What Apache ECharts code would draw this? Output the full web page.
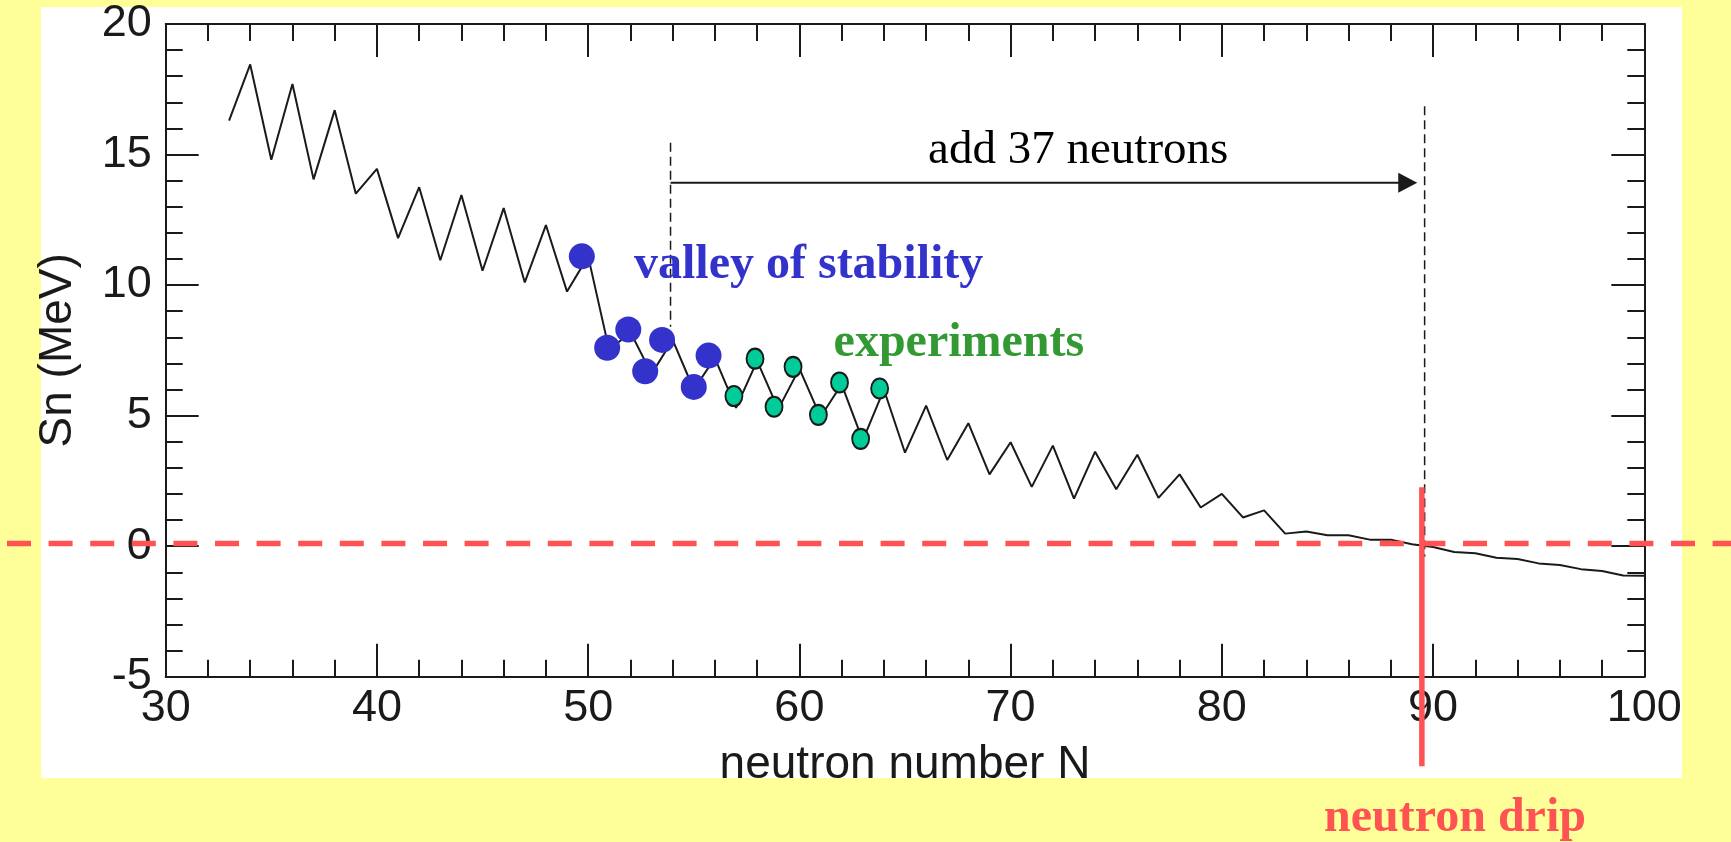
<!DOCTYPE html>
<html>
<head>
<meta charset="utf-8">
<script src="https://cdn.jsdelivr.net/npm/echarts@6/dist/echarts.min.js"></script>
<style>
html,body{margin:0;padding:0;background:#FFFF99;}
#c{width:1731px;height:842px;}
</style>
</head>
<body>
<div id="c"></div>
<script>
// ---- data ----
const neutronN = [33,34,35,36,37,38,39,40,41,42,43,44,45,46,47,48,49,50,51,52,53,54,55,56,57,58,59,60,61,62,63,64,65,66,67,68,69,70,71,72,73,74,75,76,77,78,79,80,81,82,83,84,85,86,87,88,89,90,91,92,93,94,95,96,97,98,99,100];
const snMeV = [16.3,18.45,14.8,17.7,14.05,16.7,13.5,14.45,11.8,13.75,10.95,13.45,10.55,12.95,10.1,12.3,9.75,11.1,7.5,8.2,6.6,7.9,6.0,7.2,5.3,7.1,5.25,6.8,4.95,6.2,4.05,6.0,3.58,5.38,3.3,4.71,2.75,3.98,2.27,3.85,1.82,3.62,2.18,3.5,1.85,2.75,1.48,2.0,1.1,1.37,0.48,0.56,0.42,0.42,0.25,0.25,0.07,-0.03,-0.22,-0.27,-0.44,-0.49,-0.66,-0.72,-0.88,-0.95,-1.12,-1.13];
const stableN = [49.7,50.9,51.9,52.7,53.5,55.0,55.7];
const stableSn = [11.1,7.6,8.3,6.7,7.9,6.1,7.3];
const exptN = [56.9,57.9,58.8,59.7,60.9,61.9,62.9,63.8];
const exptSn = [5.75,7.18,5.34,6.87,5.03,6.27,4.11,6.04];
const xTicks = [30,40,50,60,70,80,90,100];
const yTicks = [-5,0,5,10,15,20];
const texts = {
  xName: 'neutron number N',
  yName: 'Sn (MeV)',
  add: 'add 37 neutrons',
  valley: 'valley of stability',
  expt: 'experiments',
  drip: 'neutron drip'
};

const INK = '#1a1a1a';
const RED = '#FF5252';
const SANS = '"Liberation Sans", Arial, sans-serif';
const SERIF = '"Liberation Serif", "Times New Roman", serif';

const chart = echarts.init(document.getElementById('c'), null, {renderer:'canvas'});

function axisCommon(){
  return {
    axisLine:{show:true,onZero:false,lineStyle:{color:INK,width:2}},
    axisTick:{show:true,inside:true,length:33,lineStyle:{color:INK,width:2}},
    minorTick:{show:true,splitNumber:5,length:17,lineStyle:{color:INK,width:2}},
    splitLine:{show:false},
    minorSplitLine:{show:false}
  };
}

const ellipse = 'path://M50,0 A50,50 0 1 1 50,100 A50,50 0 1 1 50,0 Z';

chart.setOption({
  animation:false,
  backgroundColor:'#FFFF99',
  grid:{left:165.7,right:86.7,top:24,bottom:165.3,containLabel:false},
  xAxis:[
    Object.assign(axisCommon(),{
      type:'value',min:xTicks[0],max:xTicks[xTicks.length-1],interval:10,position:'bottom',
      axisLabel:{show:true,fontSize:45,fontFamily:SANS,color:INK,margin:9,showMinLabel:true,showMaxLabel:true},
      name:texts.xName,nameLocation:'middle',nameGap:66,
      nameTextStyle:{fontSize:46,fontFamily:SANS,color:INK}
    }),
    Object.assign(axisCommon(),{
      type:'value',min:xTicks[0],max:xTicks[xTicks.length-1],interval:10,position:'top',
      axisLabel:{show:false}
    })
  ],
  yAxis:[
    Object.assign(axisCommon(),{
      type:'value',min:yTicks[0],max:yTicks[yTicks.length-1],interval:5,position:'left',
      axisLabel:{show:true,fontSize:45,fontFamily:SANS,color:INK,margin:14,showMinLabel:true,showMaxLabel:true},
      name:texts.yName,nameLocation:'middle',nameGap:84,nameRotate:90,
      nameTextStyle:{fontSize:46,fontFamily:SANS,color:INK}
    }),
    Object.assign(axisCommon(),{
      type:'value',min:yTicks[0],max:yTicks[yTicks.length-1],interval:5,position:'right',
      axisLabel:{show:false}
    })
  ],
  series:[
    {type:'line',data:neutronN.map((n,i)=>[n,snMeV[i]]),symbol:'none',
     lineStyle:{color:INK,width:2},z:3,clip:false},
    {type:'scatter',data:stableN.map((n,i)=>[n,stableSn[i]]),symbol:'circle',symbolSize:26,
     itemStyle:{color:'#3333CC',opacity:1},z:4},
    {type:'scatter',data:exptN.map((n,i)=>[n,exptSn[i]]),symbol:ellipse,symbolKeepAspect:false,symbolSize:[17,20],
     itemStyle:{color:'#00CC99',borderColor:INK,borderWidth:2,opacity:1},z:5}
  ]
});

function P(n,v){return chart.convertToPixel({xAxisIndex:0,yAxisIndex:0},[n,v]);}

const a1 = P(53.9,15.45), a2 = P(53.9,8.4);
const b1 = P(89.6,16.85), b2 = P(89.6,-0.41);
const arS = P(53.9,13.92), arE = P(89.25,13.92);
const rv1 = P(89.47,2.26), rv2 = P(89.47,-8.43);
const rh = P(30,0.1);
const tAdd = P(73.2,15.15), tValley = P(52.17,10.75), tExpt = P(61.62,7.75), tDrip = P(84.84,-10.45);

function txt(t,pos,font,fill,align){
  return {type:'text',x:pos[0],y:pos[1],z:90,silent:true,
    style:{text:t,font:font,fill:fill,align:align,verticalAlign:'middle',textAlign:align,textVerticalAlign:'middle'}};
}

chart.setOption({
  graphic:[
    {type:'rect',shape:{x:41,y:7,width:1641,height:771},style:{fill:'#ffffff'},z:-10,silent:true},
    {type:'line',shape:{x1:a1[0],y1:a1[1],x2:a2[0],y2:a2[1]},style:{stroke:INK,lineWidth:1.5,lineDash:[9,5]},z:80,silent:true},
    {type:'line',shape:{x1:b1[0],y1:b1[1],x2:b2[0],y2:b2[1]},style:{stroke:INK,lineWidth:1.5,lineDash:[9,5]},z:80,silent:true},
    {type:'line',shape:{x1:arS[0],y1:arS[1],x2:arE[0]-17,y2:arE[1]},style:{stroke:INK,lineWidth:2},z:80,silent:true},
    {type:'polygon',shape:{points:[[arE[0],arE[1]],[arE[0]-19,arE[1]-10],[arE[0]-19,arE[1]+10]]},style:{fill:INK},z:80,silent:true},
    txt(texts.add,tAdd,'47px '+SERIF,'#000000','center'),
    txt(texts.valley,tValley,'bold 48px '+SERIF,'#3333CC','left'),
    txt(texts.expt,tExpt,'bold 48px '+SERIF,'#339933','left'),
    txt(texts.drip,tDrip,'bold 48px '+SERIF,RED,'left'),
    {type:'line',shape:{x1:7,y1:rh[1],x2:1731,y2:rh[1]},style:{stroke:RED,lineWidth:5.5,lineDash:[24,17.6]},z:100,silent:true},
    {type:'line',shape:{x1:rv1[0],y1:rv1[1],x2:rv2[0],y2:rv2[1]},style:{stroke:RED,lineWidth:5.5},z:100,silent:true}
  ]
});
</script>
</body>
</html>
